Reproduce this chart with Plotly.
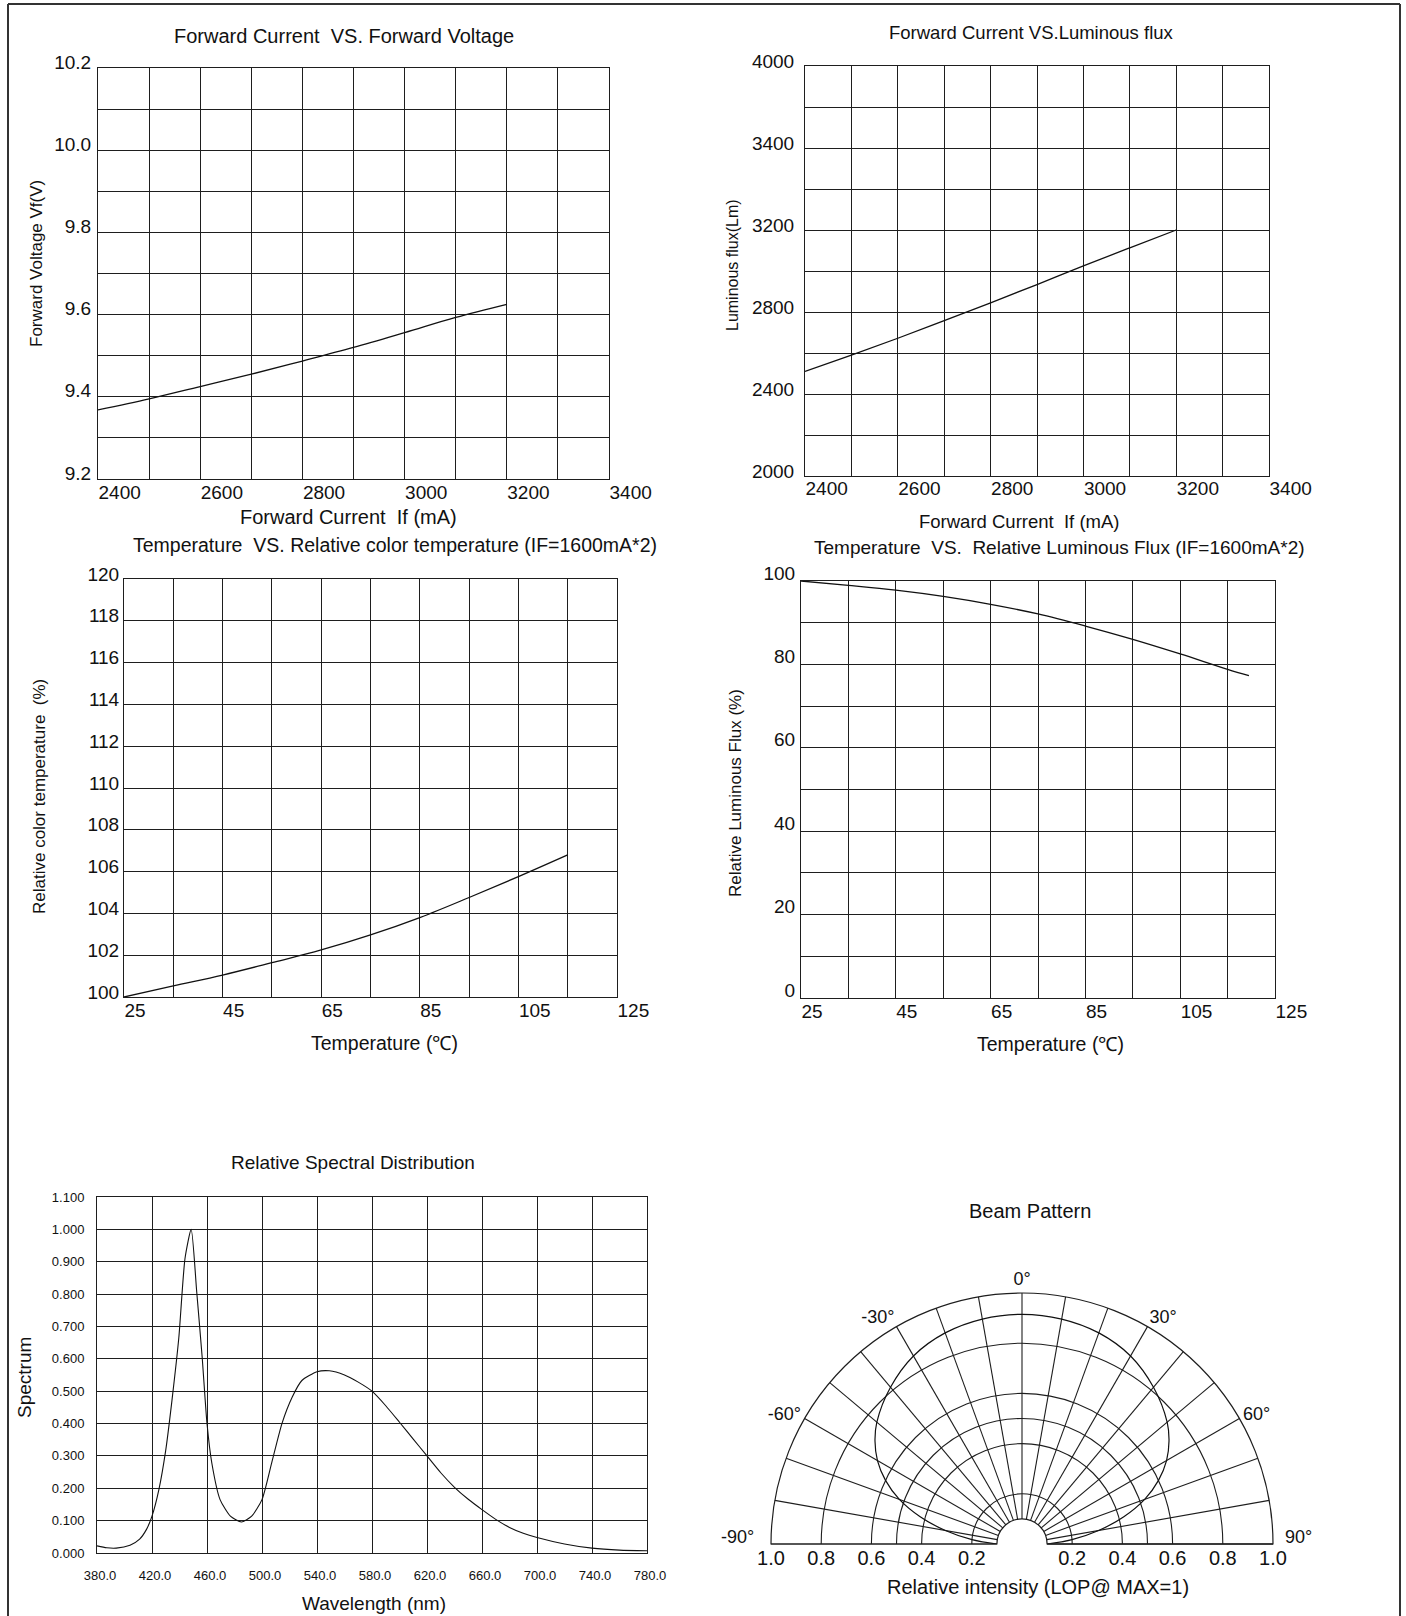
import plotly.graph_objects as go

W, H = 1406, 1616
FONT = "Liberation Sans, Arial, sans-serif"
INK = "#111111"
GRID = "#1e1e1e"

# ---------------- data ----------------
# Forward Current vs Forward Voltage
fv_current = [2400, 2500, 2600, 2700, 2800, 2900, 3000, 3100, 3200]
fv_voltage = [9.368, 9.395, 9.425, 9.455, 9.487, 9.520, 9.556, 9.593, 9.625]

# Forward Current vs Luminous flux
lf_current = [2400, 2500, 2600, 2700, 2800, 2900, 3000, 3100, 3200]
lf_flux = [2510, 2590, 2672, 2758, 2845, 2934, 3025, 3113, 3200]
lf_yticks = [2000, 2400, 2800, 3200, 3600, 4000]
lf_yticktext = ["2000", "2400", "2800", "3200", "3400", "4000"]

# Temperature vs Relative color temperature
ct_temp = [25, 35, 45, 55, 65, 75, 85, 95, 105, 115]
ct_rel = [100.0, 100.53, 101.05, 101.64, 102.25, 102.97, 103.8, 104.76, 105.76, 106.8]

# Temperature vs Relative luminous flux
rf_temp = [25, 35, 45, 55, 65, 75, 85, 95, 105, 115, 119.5]
rf_rel = [100.0, 98.96, 97.8, 96.3, 94.4, 92.1, 89.2, 86.0, 82.5, 78.8, 77.3]

# Relative spectral distribution
wl = [380, 387, 394, 404, 411, 416, 420, 425, 430, 434.5, 439.5, 444, 448.5, 452.5,
      456.5, 460, 463.5, 469.5, 477, 485, 492.5, 500, 507, 514.5, 522, 529, 540, 549,
      560, 570, 580, 590, 600, 610, 620, 630, 640, 650, 660, 670, 680, 690, 700, 720,
      740, 760, 780]
spec = [0.022, 0.016, 0.015, 0.024, 0.043, 0.073, 0.114, 0.196, 0.318, 0.471, 0.665,
        0.91, 1.0, 0.808, 0.604, 0.40, 0.278, 0.165, 0.114, 0.096, 0.114, 0.165, 0.278,
        0.40, 0.482, 0.533, 0.56, 0.563, 0.550, 0.528, 0.500, 0.455, 0.404, 0.352, 0.300,
        0.248, 0.203, 0.166, 0.134, 0.104, 0.079, 0.061, 0.048, 0.028, 0.015, 0.009, 0.007]

# Beam pattern
beam_theta = [-90, -85, -80, -75, -70, -65, -60, -55, -50, -40, -30, -20, -10, 0,
              10, 20, 30, 40, 50, 55, 60, 65, 70, 75, 80, 85, 90]
beam_r = [0.10, 0.20, 0.31, 0.42, 0.52, 0.60, 0.665, 0.715, 0.755, 0.815, 0.865, 0.895,
          0.91, 0.915, 0.91, 0.895, 0.865, 0.815, 0.755, 0.715, 0.665, 0.60, 0.52, 0.42,
          0.31, 0.20, 0.10]
beam_rgrid = [0.2, 0.4, 0.5, 0.6, 0.8, 1.0]
beam_scale_vals = [-1.0, -0.8, -0.6, -0.4, -0.2, 0.2, 0.4, 0.6, 0.8, 1.0]
beam_scale_text = ["1.0", "0.8", "0.6", "0.4", "0.2", "0.2", "0.4", "0.6", "0.8", "1.0"]
beam_theta_ticks = list(range(-90, 91, 10))
# the two horizontal (±90°) labels sit beside the baseline, placed separately below
beam_theta_text = [f"{t}°" if (t % 30 == 0 and abs(t) != 90) else ""
                   for t in beam_theta_ticks]


def px_dom_x(a, b):
    return [a / W, b / W]


def px_dom_y(top, bottom):
    return [1 - bottom / H, 1 - top / H]


def grid_axis(domain, rng, dtick, minor_dtick=None, tick0=None, size=19, **kw):
    d = dict(domain=domain, range=rng, showgrid=True, gridcolor=GRID,
             gridwidth=1, showline=True, mirror=True, linecolor=GRID, linewidth=1,
             zeroline=False, ticks="", tickfont=dict(family=FONT, size=size, color=INK),
             fixedrange=True, automargin=False)
    if dtick is not None:
        d["dtick"] = dtick
    if tick0 is not None:
        d["tick0"] = tick0
    if minor_dtick is not None:
        m = dict(dtick=minor_dtick, showgrid=True, gridcolor=GRID, gridwidth=1, ticks="")
        if tick0 is not None:
            m["tick0"] = tick0
        d["minor"] = m
    d.update(kw)
    return d


fig = go.Figure()
line = dict(color=INK, width=1.3, shape="spline")
fig.add_trace(go.Scatter(x=fv_current, y=fv_voltage, mode="lines", line=line,
                         xaxis="x", yaxis="y", showlegend=False))
fig.add_trace(go.Scatter(x=lf_current, y=lf_flux, mode="lines", line=line,
                         xaxis="x2", yaxis="y2", showlegend=False))
fig.add_trace(go.Scatter(x=ct_temp, y=ct_rel, mode="lines", line=line,
                         xaxis="x3", yaxis="y3", showlegend=False))
fig.add_trace(go.Scatter(x=rf_temp, y=rf_rel, mode="lines", line=line,
                         xaxis="x4", yaxis="y4", showlegend=False))
fig.add_trace(go.Scatter(x=wl, y=spec, mode="lines",
                         line=dict(color=INK, width=1.1, shape="spline", smoothing=0.6),
                         xaxis="x5", yaxis="y5", showlegend=False))
fig.add_trace(go.Scatterpolar(r=beam_r, theta=beam_theta, mode="lines",
                              line=dict(color=INK, width=1.2, shape="spline"),
                              subplot="polar", showlegend=False))
# carrier trace for the linear intensity scale under the beam pattern
fig.add_trace(go.Scatter(x=[None], y=[None], mode="lines", xaxis="x6", yaxis="y6",
                         showlegend=False, hoverinfo="skip"))

xr = dict(ticklabelposition="outside right", ticklabeloverflow="allow")
BEAM_X = px_dom_x(771, 1273)
BEAM_Y = px_dom_y(1293, 1544)

fig.update_layout(
    width=W, height=H, autosize=False,
    margin=dict(l=0, r=0, t=0, b=0, pad=0, autoexpand=False),
    paper_bgcolor="white", plot_bgcolor="white",
    font=dict(family=FONT, color=INK),
    # panel 1
    xaxis=grid_axis(px_dom_x(98, 609), [2400, 3400], 200, 100, 2400, anchor="y",
                    ticklabelstandoff=-4, **xr),
    yaxis=grid_axis(px_dom_y(68, 479), [9.2, 10.2], 0.2, 0.1, 9.2, anchor="x",
                    tickformat=".1f", ticklabelshift=-6, ticklabelstandoff=2),
    # panel 2
    xaxis2=grid_axis(px_dom_x(805, 1269), [2400, 3400], 200, 100, 2400, anchor="y2",
                     ticklabelstandoff=-5, **xr),
    yaxis2=grid_axis(px_dom_y(66, 476), [2000, 4000], None, 200, 2000, anchor="x2",
                     tickmode="array", tickvals=lf_yticks, ticktext=lf_yticktext,
                     ticklabelshift=-5, ticklabelstandoff=6),
    # panel 3
    xaxis3=grid_axis(px_dom_x(124, 617), [25, 125], 20, 10, 25, anchor="y3",
                     ticklabelstandoff=-4, **xr),
    yaxis3=grid_axis(px_dom_y(579, 997), [100, 120], 2, None, 100, anchor="x3",
                     ticklabelshift=-5, ticklabelstandoff=0),
    # panel 4
    xaxis4=grid_axis(px_dom_x(801, 1275), [25, 125], 20, 10, 25, anchor="y4",
                     ticklabelstandoff=-4, **xr),
    yaxis4=grid_axis(px_dom_y(581, 998), [0, 100], 20, 10, 0, anchor="x4",
                     ticklabelshift=-8, ticklabelstandoff=1),
    # panel 5
    xaxis5=grid_axis(px_dom_x(97, 647), [380, 780], 40, None, 380, size=13, anchor="y5",
                     tickformat=".1f", ticklabelshift=3, ticklabelstandoff=10),
    yaxis5=grid_axis(px_dom_y(1197, 1553), [0, 1.1], 0.1, None, 0, size=13, anchor="x5",
                     tickformat=".3f", ticklabelstandoff=9),
    # linear intensity scale below the beam pattern
    xaxis6=dict(domain=BEAM_X, range=[-1, 1], anchor="y6", showgrid=False,
                zeroline=False, showline=False, ticks="", tickmode="array",
                tickvals=beam_scale_vals, ticktext=beam_scale_text,
                tickfont=dict(family=FONT, size=20, color=INK), fixedrange=True,
                automargin=False, ticklabelstandoff=0),
    yaxis6=dict(domain=BEAM_Y, range=[0, 1], visible=False, fixedrange=True),
    polar=dict(
        domain=dict(x=BEAM_X, y=BEAM_Y),
        sector=[0, 180], hole=0.1, bgcolor="rgba(0,0,0,0)",
        radialaxis=dict(range=[0.1, 1.0], tickmode="array", tickvals=beam_rgrid,
                        showticklabels=False, angle=0,
                        showline=True, linecolor=GRID, linewidth=1.2, gridcolor=GRID,
                        gridwidth=1.1, ticks=""),
        angularaxis=dict(rotation=90, direction="clockwise", tickmode="array",
                         tickvals=beam_theta_ticks, ticktext=beam_theta_text,
                         showline=True, linecolor=GRID, linewidth=1.2, gridcolor=GRID,
                         gridwidth=1.1, ticks="",
                         tickfont=dict(family=FONT, size=18, color=INK)),
    ),
)


def ann(text, x, y, size, angle=0):
    fig.add_annotation(text=text, x=x / W, y=1 - y / H, xref="paper", yref="paper",
                       showarrow=False, xanchor="center", yanchor="middle",
                       textangle=angle, font=dict(family=FONT, size=size, color=INK))


# titles
ann("Forward Current  VS. Forward Voltage", 344, 36, 20)
ann("Forward Current VS.Luminous flux", 1031, 33, 18.5)
ann("Temperature  VS. Relative color temperature (IF=1600mA*2)", 395, 545, 19.5)
ann("Temperature  VS.  Relative Luminous Flux (IF=1600mA*2)", 1059, 547, 19)
ann("Relative Spectral Distribution", 353, 1162, 19)
ann("Beam Pattern", 1030, 1211, 20)
# axis titles
ann("Forward Current  If (mA)", 348, 517, 20)
ann("Forward Voltage Vf(V)", 36, 264, 17, -90)
ann("Forward Current  If (mA)", 1019, 522, 18.5)
ann("Luminous flux(Lm)", 733, 265, 16, -90)
ann("Temperature (℃)", 384, 1043, 19.5)
ann("Relative color temperature  (%)", 40, 797, 17, -90)
ann("Temperature (℃)", 1050, 1044, 19.5)
ann("Relative Luminous Flux (%)", 736, 793, 17, -90)
ann("Wavelength (nm)", 374, 1603, 19)
ann("Spectrum", 24, 1378, 19, -90)
ann("Relative intensity (LOP@ MAX=1)", 1038, 1587, 20)
# horizontal angle labels beside the beam-pattern baseline
ann("-90°", 737, 1537, 18)
ann("90°", 1298, 1537, 18)

# page frame
for (x0, y0, x1, y1) in [(8, 4, 1400, 4), (8, 4, 8, 1616), (1400, 4, 1400, 1616)]:
    fig.add_shape(type="line", x0=x0 / W, y0=1 - y0 / H, x1=x1 / W, y1=1 - y1 / H,
                  xref="paper", yref="paper", line=dict(color="#333333", width=2))

fig.write_html("out.html",
               config={"displayModeBar": False, "staticPlot": True},
               post_script="document.body.style.margin='0px';"
                           "document.body.style.overflow='hidden';")
